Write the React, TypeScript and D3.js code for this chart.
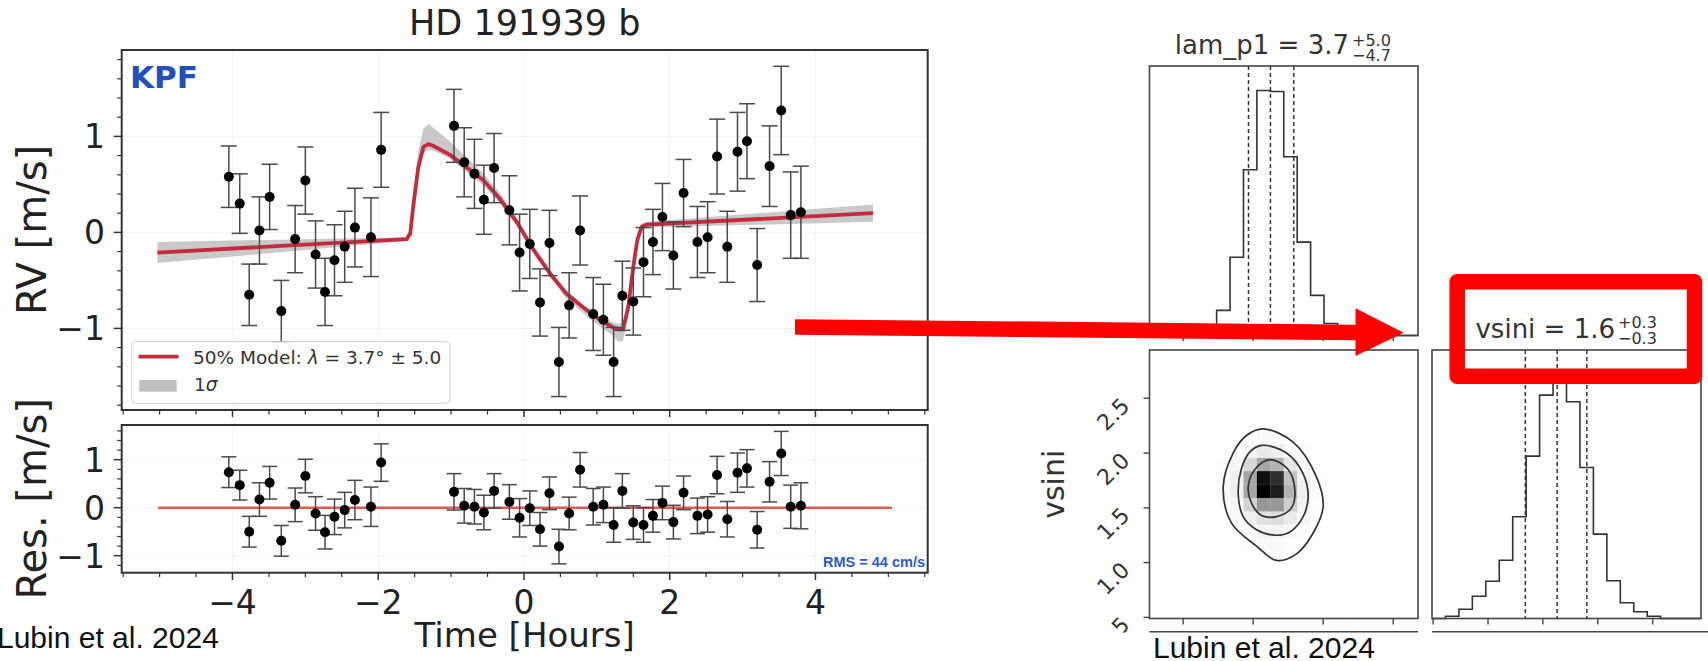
import React from 'react';
import * as d3 from 'd3';

// ---------- Left figure data (RM effect, HD 191939 b) ----------
const rvTime = [-4.05, -3.90, -3.77, -3.63, -3.49, -3.33, -3.14, -3.00, -2.86, -2.73, -2.60, -2.46, -2.32, -2.10, -1.96,
  -0.96, -0.82, -0.68, -0.55, -0.41, -0.20, -0.06, 0.08, 0.22, 0.35, 0.48, 0.62, 0.77, 0.95, 1.09, 1.23, 1.35, 1.50, 1.64,
  1.77, 1.90, 2.05, 2.19, 2.38, 2.52, 2.65, 2.79, 2.93, 3.06, 3.20, 3.37, 3.53, 3.66, 3.80];
const rvValue = [0.58, 0.30, -0.65, 0.02, 0.37, -0.82, -0.07, 0.54, -0.23, -0.62, -0.29, -0.15, 0.05, -0.05, 0.86,
  1.11, 0.73, 0.61, 0.34, 0.67, 0.23, -0.21, -0.12, -0.73, -0.11, -1.35, -0.76, 0.02, -0.85, -0.91, -1.35, -0.66, -0.72, -0.31,
  -0.10, 0.16, -0.24, 0.41, -0.10, -0.05, 0.79, -0.15, 0.84, 0.95, -0.34, 0.69, 1.27, 0.18, 0.21];
const rvError = [0.32, 0.31, 0.32, 0.35, 0.34, 0.32, 0.35, 0.35, 0.35, 0.35, 0.37, 0.37, 0.41, 0.41, 0.39,
  0.38, 0.36, 0.36, 0.36, 0.36, 0.36, 0.40, 0.36, 0.35, 0.34, 0.36, 0.34, 0.36, 0.38, 0.37, 0.36, 0.36, 0.35, 0.36,
  0.34, 0.35, 0.35, 0.35, 0.37, 0.37, 0.39, 0.37, 0.41, 0.39, 0.38, 0.42, 0.46, 0.45, 0.48];
const resValue = [0.74, 0.47, -0.50, 0.17, 0.52, -0.69, 0.06, 0.66, -0.12, -0.51, -0.19, -0.05, 0.16, 0.02, 0.94,
  0.33, 0.04, 0.02, -0.10, 0.35, 0.12, -0.21, -0.01, -0.45, 0.30, -0.81, -0.12, 0.79, 0.02, 0.06, -0.36, 0.35, -0.31, -0.36,
  -0.17, 0.10, -0.30, 0.31, -0.17, -0.14, 0.68, -0.24, 0.73, 0.82, -0.46, 0.54, 1.13, 0.02, 0.04];

const modelTime = [-5.03, -1.61, -1.56, -1.52, -1.45, -1.38, -1.31, -1.24, -1.02, -0.79, -0.56, -0.33, -0.10, 0.13, 0.36,
  0.585, 0.81, 1.04, 1.225, 1.29, 1.36, 1.43, 1.50, 1.555, 1.615, 1.68, 4.79];
const modelMid = [-0.21, -0.07, -0.01, 0.27, 0.68, 0.89, 0.92, 0.90, 0.81, 0.68, 0.545, 0.35, 0.11, -0.18, -0.43,
  -0.64, -0.78, -0.91, -0.99, -1.01, -1.01, -0.78, -0.36, -0.08, 0.06, 0.08, 0.20];
const modelHi = [-0.10, -0.05, 0.02, 0.35, 0.85, 1.08, 1.13, 1.09, 0.95, 0.78, 0.62, 0.41, 0.15, -0.15, -0.40,
  -0.61, -0.75, -0.87, -0.94, -0.95, -0.94, -0.70, -0.30, -0.04, 0.09, 0.11, 0.29];
const modelLo = [-0.32, -0.09, -0.04, 0.20, 0.60, 0.82, 0.86, 0.85, 0.77, 0.63, 0.49, 0.30, 0.07, -0.22, -0.47,
  -0.69, -0.84, -0.98, -1.08, -1.14, -1.13, -0.86, -0.42, -0.12, 0.03, 0.05, 0.11];
const residualLineSpan = [-5.02, 5.05];

const timeTicks = [-4, -2, 0, 2, 4];
const rvTicks = [-1, 0, 1];
const resTicks = [-1, 0, 1];

// ---------- Right figure data (corner plot) ----------
const lamBinStart = -22.2;
const lamBinWidth = 2.875;
const lamCounts = [0, 0, 0, 0, 1, 25, 78, 165, 244, 243, 178, 93, 40, 12, 2, 0, 0, 0, 0, 0];
const vsBinStart = 0.49;
const vsBinWidth = 0.1225;
const vsCounts = [0, 2.3, 9.3, 22.3, 37.3, 58.3, 101.7, 162.3, 223.3, 244, 216.7, 151, 84.3, 37.7, 15.7, 6.7, 2.3, 0, 0, 0];
const lamQuantiles = [-1.0, 3.7, 8.7];
const vsQuantiles = [1.34, 1.63, 1.90];
const lamTicks = [-15, 0, 15, 30];
const vsTicks = [0.5, 1.0, 1.5, 2.0, 2.5];
const vsTickLabels = ['0.5', '1.0', '1.5', '2.0', '2.5'];
// 2D density cells: first column index 5 (lam bins), first row index 5 (vsini bins)
const densityCol0 = 5;
const densityRow0 = 5;
const density = [
  [0, 0, 0.02, 0.03, 0.04, 0.02, 0.01, 0],
  [0, 0.02, 0.05, 0.08, 0.10, 0.06, 0.03, 0],
  [0.01, 0.04, 0.12, 0.20, 0.22, 0.14, 0.06, 0.01],
  [0.02, 0.08, 0.28, 0.50, 0.50, 0.30, 0.10, 0.02],
  [0.03, 0.12, 0.45, 1.00, 0.90, 0.40, 0.12, 0.03],
  [0.03, 0.12, 0.45, 0.95, 0.85, 0.35, 0.10, 0.02],
  [0.02, 0.08, 0.25, 0.45, 0.40, 0.18, 0.05, 0.01],
  [0, 0.03, 0.08, 0.15, 0.12, 0.05, 0.02, 0],
  [0, 0, 0.02, 0.04, 0.03, 0, 0, 0],
];
const contourOuter = [[2.14, 2.22], [8.57, 2.10], [13.57, 1.78], [14.99, 1.51], [12.85, 1.27], [9.29, 1.08], [5.01, 1.02],
  [0.73, 1.15], [-4.63, 1.36], [-6.42, 1.69], [-4.28, 2.00], [-1.43, 2.16]];
const contourMiddle = [[1.79, 2.07], [7.14, 2.00], [10.71, 1.81], [11.78, 1.60], [10.71, 1.42], [7.86, 1.28], [4.65, 1.25],
  [0.73, 1.30], [-2.14, 1.42], [-3.21, 1.63], [-2.48, 1.86], [-0.71, 2.01]];
const contourInner = [[3.58, 1.94], [7.49, 1.85], [8.93, 1.66], [8.22, 1.50], [5.01, 1.42], [1.79, 1.43], [-0.34, 1.54],
  [-1.07, 1.69], [0.36, 1.85]];

const MPL = "'DejaVu Sans', sans-serif";
const ARIAL = "'Liberation Sans', Arial, sans-serif";

function range(a: number, b: number, step: number) {
  const out: number[] = [];
  for (let v = a; v <= b + 1e-9; v += step) out.push(Math.round(v * 1000) / 1000);
  return out;
}

export default function App() {
  // ----- left scales -----
  const L = 121.7, R = 927.7;
  const x = d3.scaleLinear().domain([-5.52, 5.54]).range([L, R]);
  const yRV = d3.scaleLinear().domain([-1.85, 1.9]).range([410, 50]);
  const yRes = d3.scaleLinear().domain([-1.354, 1.723]).range([572.7, 425]);

  const band = d3.area<number>()
    .x((_, i) => x(modelTime[i]))
    .y0((_, i) => yRV(modelLo[i]))
    .y1((_, i) => yRV(modelHi[i]));
  const modelLine = d3.line<number>()
    .x((_, i) => x(modelTime[i]))
    .y((_, i) => yRV(modelMid[i]));

  const xMinor = range(-5.5, 5.5, 0.5).filter(v => !timeTicks.includes(v));
  const rvMinor = range(-1.8, 1.8, 0.2).filter(v => Math.abs(v - Math.round(v)) > 1e-6);
  const resMinor = range(-1.2, 1.6, 0.2).filter(v => Math.abs(v - Math.round(v)) > 1e-6);

  const frameColor = '#333';
  const tickColor = '#333';
  const gridColor = '#f2f2f2';

  // ----- corner scales -----
  const lamX = d3.scaleLinear().domain([-22.2, 35.3]).range([1149.5, 1418]);
  const vsY = d3.scaleLinear().domain([0.49, 2.94]).range([618.5, 350]);
  const vsX = d3.scaleLinear().domain([0.49, 2.94]).range([1432, 1701]);
  const topH = d3.scaleLinear().domain([0, 1.1 * d3.max(lamCounts)!]).range([335.5, 66]);
  const rightH = d3.scaleLinear().domain([0, 1.1 * d3.max(vsCounts)!]).range([618.5, 350]);

  const stepPath = (counts: number[], start: number, w: number, xs: (v: number) => number, ys: (v: number) => number) => {
    let p = `M${xs(start)},${ys(0)}`;
    counts.forEach((c, i) => {
      const x0 = xs(start + i * w), x1 = xs(start + (i + 1) * w);
      p += `L${x0},${ys(c)}L${x1},${ys(c)}`;
    });
    p += `L${xs(start + counts.length * w)},${ys(0)}`;
    return p;
  };

  const contourLine = d3.line<number[]>().x(d => lamX(d[0])).y(d => vsY(d[1])).curve(d3.curveCatmullRomClosed.alpha(0.5));

  const cornerStroke = '#444';
  const histStroke = '#333';

  return (
    <svg width={1708} height={661} style={{ position: 'absolute', left: 0, top: 0, background: '#fff' }}
      fontFamily={MPL}>
      <rect x={0} y={0} width={1708} height={661} fill="#fff" />

      {/* ================= LEFT: RV panel ================= */}
      <text x={(L + R) / 2} y={35} textAnchor="middle" fontSize={35} fill="#222">HD 191939 b</text>

      {/* grid */}
      {timeTicks.map(t => <line key={'gv' + t} x1={x(t)} x2={x(t)} y1={50} y2={410} stroke={gridColor} strokeWidth={1} />)}
      {rvTicks.map(v => <line key={'gh' + v} x1={L} x2={R} y1={yRV(v)} y2={yRV(v)} stroke={gridColor} strokeWidth={1} />)}

      {/* band + model */}
      <path d={band(modelTime)!} fill="#bfbfbf" opacity={0.85} />
      <path d={modelLine(modelTime)!} fill="none" stroke="#c42b3d" strokeWidth={3.8} strokeLinejoin="round" />

      {/* error bars and points */}
      {rvTime.map((t, i) => {
        const cx = x(t), y0 = yRV(rvValue[i] - rvError[i]), y1 = yRV(rvValue[i] + rvError[i]);
        return (
          <g key={'rv' + i} stroke="#4a4a4a" strokeWidth={1.5}>
            <line x1={cx} x2={cx} y1={y0} y2={y1} />
            <line x1={cx - 8} x2={cx + 8} y1={y0} y2={y0} />
            <line x1={cx - 8} x2={cx + 8} y1={y1} y2={y1} />
          </g>
        );
      })}
      {rvTime.map((t, i) => <circle key={'rp' + i} cx={x(t)} cy={yRV(rvValue[i])} r={5} fill="#000" />)}

      {/* KPF label */}
      <text x={130} y={88} fontSize={31} fontWeight="bold" fill="#2350b8">KPF</text>

      {/* legend */}
      <rect x={131.7} y={341.7} width={318.3} height={61.6} rx={4} fill="#fff" fillOpacity={0.8} stroke="#d0d0d0" strokeWidth={1} />
      <line x1={138.5} x2={178.5} y1={356.7} y2={356.7} stroke="#c42b3d" strokeWidth={3.8} />
      <text x={193} y={364} fontSize={18.5} fill="#333">
        50% Model: <tspan fontStyle="italic">λ</tspan> = 3.7° ±  5.0
      </text>
      <rect x={139.3} y={380} width={37.4} height={11.7} fill="#bfbfbf" />
      <text x={194} y={391} fontSize={18.5} fill="#333">1<tspan fontStyle="italic">σ</tspan></text>

      {/* frame */}
      <rect x={L} y={50} width={R - L} height={360} fill="none" stroke={frameColor} strokeWidth={2} />
      {/* ticks */}
      {rvTicks.map(v => <line key={'ryt' + v} x1={L - 8} x2={L} y1={yRV(v)} y2={yRV(v)} stroke={tickColor} strokeWidth={1.5} />)}
      {rvMinor.map(v => <line key={'rym' + v} x1={L - 4.5} x2={L} y1={yRV(v)} y2={yRV(v)} stroke={tickColor} strokeWidth={1.2} />)}
      {timeTicks.map(t => <line key={'rxt' + t} x1={x(t)} x2={x(t)} y1={410} y2={417} stroke={tickColor} strokeWidth={1.5} />)}
      {xMinor.map(t => <line key={'rxm' + t} x1={x(t)} x2={x(t)} y1={410} y2={414.5} stroke={tickColor} strokeWidth={1.2} />)}
      {rvTicks.map(v => (
        <text key={'ryl' + v} x={105} y={yRV(v) + 12} textAnchor="end" fontSize={33} fill="#222">{v < 0 ? '−' + Math.abs(v) : v}</text>
      ))}
      <text transform={`translate(46,${(50 + 410) / 2}) rotate(-90)`} textAnchor="middle" fontSize={40} fill="#222">RV [m/s]</text>

      {/* ================= LEFT: residual panel ================= */}
      {timeTicks.map(t => <line key={'rgv' + t} x1={x(t)} x2={x(t)} y1={425} y2={572.7} stroke={gridColor} strokeWidth={1} />)}
      {resTicks.map(v => <line key={'rgh' + v} x1={L} x2={R} y1={yRes(v)} y2={yRes(v)} stroke={gridColor} strokeWidth={1} />)}
      <line x1={x(residualLineSpan[0])} x2={x(residualLineSpan[1])} y1={yRes(0)} y2={yRes(0)} stroke="#e05a55" strokeWidth={2.5} />
      {rvTime.map((t, i) => {
        const cx = x(t), y0 = yRes(resValue[i] - rvError[i]), y1 = yRes(resValue[i] + rvError[i]);
        return (
          <g key={'re' + i} stroke="#4a4a4a" strokeWidth={1.5}>
            <line x1={cx} x2={cx} y1={y0} y2={y1} />
            <line x1={cx - 7.5} x2={cx + 7.5} y1={y0} y2={y0} />
            <line x1={cx - 7.5} x2={cx + 7.5} y1={y1} y2={y1} />
          </g>
        );
      })}
      {rvTime.map((t, i) => <circle key={'rsp' + i} cx={x(t)} cy={yRes(resValue[i])} r={5} fill="#000" />)}
      <text x={925} y={567} textAnchor="end" fontSize={14.5} fontWeight="bold" fontFamily={ARIAL} fill="#2a5bc7">RMS = 44 cm/s</text>
      <rect x={L} y={425} width={R - L} height={147.7} fill="none" stroke={frameColor} strokeWidth={2} />
      {resTicks.map(v => <line key={'syt' + v} x1={L - 8} x2={L} y1={yRes(v)} y2={yRes(v)} stroke={tickColor} strokeWidth={1.5} />)}
      {resMinor.map(v => <line key={'sym' + v} x1={L - 4.5} x2={L} y1={yRes(v)} y2={yRes(v)} stroke={tickColor} strokeWidth={1.2} />)}
      {timeTicks.map(t => <line key={'sxt' + t} x1={x(t)} x2={x(t)} y1={572.7} y2={580} stroke={tickColor} strokeWidth={1.5} />)}
      {xMinor.map(t => <line key={'sxm' + t} x1={x(t)} x2={x(t)} y1={572.7} y2={577} stroke={tickColor} strokeWidth={1.2} />)}
      {resTicks.map(v => (
        <text key={'syl' + v} x={105} y={yRes(v) + 12} textAnchor="end" fontSize={33} fill="#222">{v < 0 ? '−' + Math.abs(v) : v}</text>
      ))}
      {timeTicks.map(t => (
        <text key={'sxl' + t} x={x(t)} y={614} textAnchor="middle" fontSize={33} fill="#222">{t < 0 ? '−' + Math.abs(t) : t}</text>
      ))}
      <text transform={`translate(46,${(425 + 572.7) / 2}) rotate(-90)`} textAnchor="middle" fontSize={40} fill="#222">Res. [m/s]</text>
      <text x={(L + R) / 2} y={647} textAnchor="middle" fontSize={34} fill="#222">Time [Hours]</text>
      <text x={-3} y={648} fontSize={30} fontFamily={ARIAL} fill="#111">Lubin et al. 2024</text>

      {/* ================= RIGHT: corner plot ================= */}
      {/* top histogram: lam_p1 */}
      <path d={stepPath(lamCounts, lamBinStart, lamBinWidth, lamX, topH)} fill="none" stroke={histStroke} strokeWidth={1.6} />
      {lamQuantiles.map(q => <line key={'lq' + q} x1={lamX(q)} x2={lamX(q)} y1={66} y2={335.5} stroke={histStroke} strokeWidth={1.5} strokeDasharray="4,3" />)}
      <rect x={1149.5} y={66} width={268.5} height={269.5} fill="none" stroke={cornerStroke} strokeWidth={1.6} />
      {lamTicks.map(t => <line key={'lt' + t} x1={lamX(t)} x2={lamX(t)} y1={335.5} y2={341} stroke={cornerStroke} strokeWidth={1.4} />)}
      <text x={1349} y={54} textAnchor="end" fontSize={26} fill="#333">lam_p1 = 3.7</text>
      <text x={1352} y={46} fontSize={16} fill="#333">+5.0</text>
      <text x={1352} y={61} fontSize={16} fill="#333">−4.7</text>

      {/* 2D density */}
      {density.map((row, r) => row.map((v, c) => {
        const k = densityCol0 + c, j = densityRow0 + r;
        const x0 = lamX(lamBinStart + k * lamBinWidth), x1 = lamX(lamBinStart + (k + 1) * lamBinWidth);
        const y0 = vsY(vsBinStart + (j + 1) * vsBinWidth), y1 = vsY(vsBinStart + j * vsBinWidth);
        return v > 0 ? <rect key={`d${r}-${c}`} x={x0} y={y0} width={x1 - x0 + 0.3} height={y1 - y0 + 0.3} fill={d3.interpolateGreys(v)} /> : null;
      }))}
      {[contourOuter, contourMiddle, contourInner].map((cnt, i) => (
        <path key={'ct' + i} d={contourLine(cnt)!} fill="none" stroke="#333" strokeWidth={1.7} />
      ))}
      <rect x={1149.5} y={350} width={268.5} height={268.5} fill="none" stroke={cornerStroke} strokeWidth={1.6} />
      {vsTicks.map(v => <line key={'vyt' + v} x1={1143.5} x2={1149.5} y1={vsY(v)} y2={vsY(v)} stroke={cornerStroke} strokeWidth={1.4} />)}
      {lamTicks.map(t => <line key={'lbt' + t} x1={lamX(t)} x2={lamX(t)} y1={618.5} y2={624.5} stroke={cornerStroke} strokeWidth={1.4} />)}
      {vsTicks.map((v, i) => (
        <text key={'vyl' + v} transform={`translate(1131,${vsY(v) + 9}) rotate(-45)`} textAnchor="end" fontSize={22} fill="#333">{vsTickLabels[i]}</text>
      ))}
      <text transform={`translate(1064,${(350 + 618.5) / 2}) rotate(-90)`} textAnchor="middle" fontSize={30} fill="#333">vsini</text>

      {/* right histogram: vsini */}
      <path d={stepPath(vsCounts, vsBinStart, vsBinWidth, vsX, rightH)} fill="none" stroke={histStroke} strokeWidth={1.6} />
      {vsQuantiles.map(q => <line key={'vq' + q} x1={vsX(q)} x2={vsX(q)} y1={350} y2={618.5} stroke={histStroke} strokeWidth={1.5} strokeDasharray="4,3" />)}
      <rect x={1432} y={350} width={269} height={268.5} fill="none" stroke={cornerStroke} strokeWidth={1.6} />
      {vsTicks.map(v => <line key={'vxt' + v} x1={vsX(v)} x2={vsX(v)} y1={618.5} y2={624.5} stroke={cornerStroke} strokeWidth={1.4} />)}
      <text x={1615} y={338} textAnchor="end" fontSize={26} fill="#333">vsini = 1.6</text>
      <text x={1618} y={328} fontSize={16} fill="#333">+0.3</text>
      <text x={1618} y={344} fontSize={16} fill="#333">−0.3</text>

      {/* cropped bottom of the corner figure */}
      <rect x={1040} y={632.5} width={668} height={29} fill="#fff" />
      <line x1={1149.5} x2={1418} y1={631.7} y2={631.7} stroke={cornerStroke} strokeWidth={1.6} />
      <line x1={1432} x2={1708} y1={631.7} y2={631.7} stroke={cornerStroke} strokeWidth={1.6} />
      <text x={1153} y={658} fontSize={30} fontFamily={ARIAL} fill="#111">Lubin et al. 2024</text>

      {/* annotations */}
      <path d="M795,319.2 L1355.5,324.7 L1355.5,308.3 L1403.7,332.7 L1355.5,356 L1355.5,340.3 L795,334.8 Z" fill="#ff0000" />
      <rect x={1457.2} y={281.7} width={237.3} height={94.5} fill="none" stroke="#ff0000" strokeWidth={15.5} strokeLinejoin="round" />
    </svg>
  );
}
